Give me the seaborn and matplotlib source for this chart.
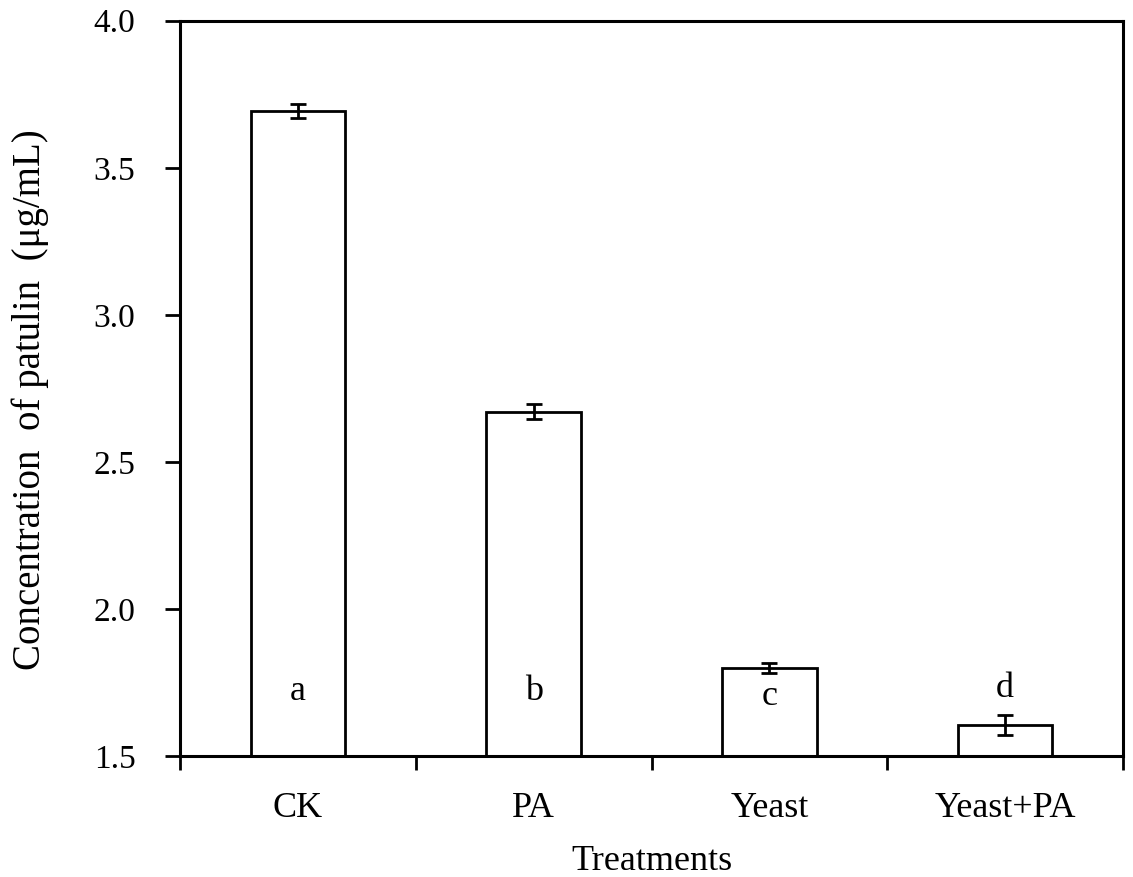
import matplotlib
matplotlib.use("Agg")
import matplotlib.pyplot as plt
import seaborn as sns
import pandas as pd
import numpy as np
from matplotlib.ticker import FixedLocator

treatments = ["CK", "PA", "Yeast", "Yeast+PA"]
means = [3.693, 2.671, 1.798, 1.606]
errors = [0.025, 0.026, 0.017, 0.035]
letters = ["a", "b", "c", "d"]
letter_y = [1.690, 1.690, 1.673, 1.702]
yticks = [1.5, 2.0, 2.5, 3.0, 3.5, 4.0]

sns.set_style("ticks")
plt.rcParams["font.family"] = ["Liberation Serif", "DejaVu Serif"]
for k in ["text.color", "axes.labelcolor", "xtick.color", "ytick.color", "axes.edgecolor"]:
    plt.rcParams[k] = "black"

df = pd.DataFrame({"Treatment": treatments, "Value": means})

fig = plt.figure(figsize=(11.33, 8.77), dpi=100)
ax = fig.add_axes([180 / 1133, 1 - 756 / 877, (1123 - 180) / 1133, (756 - 20.7) / 877])

sns.barplot(data=df, x="Treatment", y="Value", order=treatments, color="white",
            edgecolor="black", linewidth=2.0, width=0.4, errorbar=None, ax=ax)
for p in ax.patches:
    p.set_facecolor("white")
    p.set_edgecolor("black")

xpos = np.arange(len(treatments))
ax.errorbar(xpos, means, yerr=errors, fmt="none", ecolor="black",
            elinewidth=2.0, capsize=5.5, capthick=2.0, zorder=5)

for x, t, ly in zip(xpos, letters, letter_y):
    ax.text(x, ly, t, ha="center", va="baseline", fontsize=26)

ax.set_xlim(-0.5, len(treatments) - 0.5)
ax.set_ylim(1.5, 4.0)
ax.set_yticks(yticks)
ax.set_yticklabels([f"{v:.1f}" for v in yticks])
ax.set_xticks(xpos)
ax.set_xticklabels(treatments)
ax.xaxis.set_minor_locator(FixedLocator(np.arange(-0.5, len(treatments), 1.0)))
ax.tick_params(axis="x", which="major", length=0, pad=26, labelsize=26)
ax.tick_params(axis="x", which="minor", length=10, width=2.0, direction="out")
ax.tick_params(axis="y", which="major", length=11, width=2.0, direction="out",
               pad=21, labelsize=24)

for s in ax.spines.values():
    s.set_visible(True)
    s.set_linewidth(2.2)
    s.set_color("black")

ax.set_xlabel("Treatments", fontsize=26, labelpad=14)
ax.set_ylabel("Concentration  of patulin  (μg/mL)", fontsize=28)
ax.yaxis.set_label_coords(-0.139, 0.484)

fig.savefig("out.png", dpi=100, facecolor="white")
